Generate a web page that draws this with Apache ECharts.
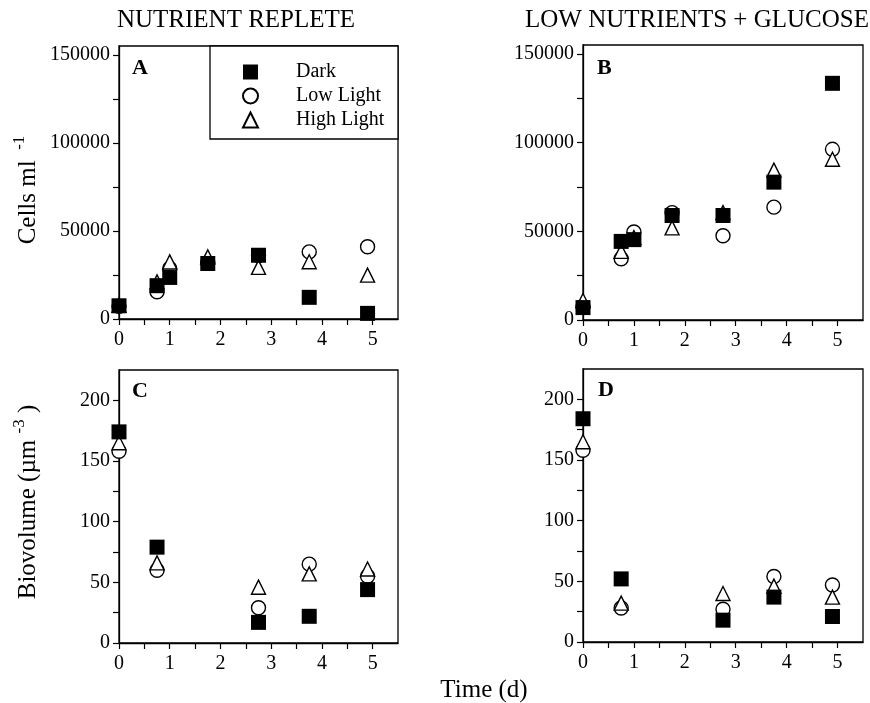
<!DOCTYPE html>
<html>
<head>
<meta charset="utf-8">
<script src="https://cdn.jsdelivr.net/npm/echarts@6/dist/echarts.min.js"></script>
<style>
html,body{margin:0;padding:0;background:#fff;}
#chart{width:870px;height:703px;}
</style>
</head>
<body>
<div id="chart"></div>
<script>
// ---- data ----
const seriesNames = ['Dark', 'Low Light', 'High Light'];
const panelTitles = ['NUTRIENT REPLETE', 'LOW NUTRIENTS + GLUCOSE'];
const panelLetters = ['A', 'B', 'C', 'D'];

const cellTimes = [0, 0.75, 1, 1.75, 2.75, 3.75, 4.9];
const bioTimes = [0, 0.75, 2.75, 3.75, 4.9];

const cellsA_dark = [7500, 18900, 23600, 31500, 36200, 12300, 3200];
const cellsA_low  = [7200, 15500, 28700, 32000, 36000, 38100, 41000];
const cellsA_high = [7800, 21100, 32400, 35300, 29300, 32500, 24900];

const cellsB_dark = [7000, 44300, 45300, 58900, 58900, 77700, 133400];
const cellsB_low  = [7500, 34500, 49600, 60500, 47500, 63600, 96200];
const cellsB_high = [11000, 38700, 46500, 51900, 60500, 84500, 90600];

const bioC_dark = [174, 79, 17, 22, 44];
const bioC_low  = [158, 60, 29, 65, 55];
const bioC_high = [165, 66, 46, 57, 61];

const bioD_dark = [184, 52, 18, 37, 21];
const bioD_low  = [158, 28, 27, 54, 47];
const bioD_high = [165, 32, 40, 46, 37];

const xTickValues = [0, 0.5, 1, 1.5, 2, 2.5, 3, 3.5, 4, 4.5, 5];
const xLabelValues = [0, 1, 2, 3, 4, 5];
const cellTickValues = [0, 25000, 50000, 75000, 100000, 125000, 150000];
const cellLabelValues = [0, 50000, 100000, 150000];
const bioTickValues = [0, 25, 50, 75, 100, 125, 150, 175, 200];
const bioLabelValues = [0, 50, 100, 150, 200];

// ---- styling ----
const FONT = "'Liberation Serif', 'Times New Roman', serif";
const grids = [
  {left: 119, top: 46, width: 279, height: 273},
  {left: 583, top: 45, width: 280, height: 275},
  {left: 119, top: 370, width: 279, height: 273},
  {left: 583, top: 369, width: 280, height: 273}
];

function zip(xs, ys) { return xs.map((x, i) => [x, ys[i]]); }

const symbolStyles = {
  'Dark': {symbol: 'rect', symbolSize: 15, itemStyle: {color: '#000', borderColor: '#000', borderWidth: 0, opacity: 1}},
  'Low Light': {symbol: 'circle', symbolSize: 14, itemStyle: {color: '#fff', borderColor: '#000', borderWidth: 1.4, opacity: 1}},
  'High Light': {symbol: 'triangle', symbolSize: 14, itemStyle: {color: '#fff', borderColor: '#000', borderWidth: 1.4, opacity: 1}}
};

const panelData = [
  {times: cellTimes, dark: cellsA_dark, low: cellsA_low, high: cellsA_high},
  {times: cellTimes, dark: cellsB_dark, low: cellsB_low, high: cellsB_high},
  {times: bioTimes, dark: bioC_dark, low: bioC_low, high: bioC_high},
  {times: bioTimes, dark: bioD_dark, low: bioD_low, high: bioD_high}
];

const xAxes = grids.map((g, i) => ({
  type: 'value', gridIndex: i, min: 0, max: 5.5,
  splitLine: {show: false},
  axisLine: {show: true, onZero: false, lineStyle: {color: '#000', width: 1.3}},
  axisTick: {show: true, inside: false, length: 6, customValues: xTickValues, lineStyle: {color: '#000', width: 1.2}},
  axisLabel: {show: true, customValues: xLabelValues, margin: 11, color: '#000', fontSize: 20, fontFamily: FONT,
              formatter: v => String(v)}
}));

const yAxes = grids.map((g, i) => {
  const cells = i < 2;
  return {
    type: 'value', gridIndex: i, min: 0, max: cells ? 155000 : 225,
    splitLine: {show: false},
    axisLine: {show: true, onZero: false, lineStyle: {color: '#000', width: 1.3}},
    axisTick: {show: true, inside: false, length: 6, customValues: cells ? cellTickValues : bioTickValues,
               lineStyle: {color: '#000', width: 1.2}},
    axisLabel: {show: true, customValues: cells ? cellLabelValues : bioLabelValues, margin: 9, color: '#000',
                fontSize: 20, fontFamily: FONT, formatter: v => String(v)}
  };
});

const series = [];
panelData.forEach((p, i) => {
  const order = [['Low Light', p.low], ['High Light', p.high], ['Dark', p.dark]];
  order.forEach(([name, vals]) => {
    const st = symbolStyles[name];
    series.push({
      type: 'scatter', name: name, xAxisIndex: i, yAxisIndex: i,
      symbol: st.symbol, symbolSize: st.symbolSize, itemStyle: st.itemStyle,
      emphasis: {disabled: true},
      data: zip(p.times, vals), z: 3
    });
  });
});

const supRich = {
  a: {font: '25px ' + FONT, fill: '#000', lineHeight: 30, verticalAlign: 'bottom'},
  s: {font: '17px ' + FONT, fill: '#000', lineHeight: 30, verticalAlign: 'top'}
};

const graphic = [
  // column titles
  {type: 'text', x: 236, y: 20, style: {text: panelTitles[0], font: '25px ' + FONT, fill: '#000', align: 'center', verticalAlign: 'middle'}},
  {type: 'text', x: 697, y: 20, style: {text: panelTitles[1], font: '25px ' + FONT, fill: '#000', align: 'center', verticalAlign: 'middle'}},
  // panel letters
  {type: 'text', x: 132, y: 68, style: {text: panelLetters[0], font: 'bold 22px ' + FONT, fill: '#000', verticalAlign: 'middle'}},
  {type: 'text', x: 597, y: 68, style: {text: panelLetters[1], font: 'bold 22px ' + FONT, fill: '#000', verticalAlign: 'middle'}},
  {type: 'text', x: 132, y: 391, style: {text: panelLetters[2], font: 'bold 22px ' + FONT, fill: '#000', verticalAlign: 'middle'}},
  {type: 'text', x: 598, y: 390, style: {text: panelLetters[3], font: 'bold 22px ' + FONT, fill: '#000', verticalAlign: 'middle'}},
  // legend box
  {type: 'rect', shape: {x: 210, y: 46, width: 188, height: 93}, style: {fill: '#fff', stroke: '#000', lineWidth: 1.3}, z: 5},
  // y axis titles
  {type: 'text', x: 26, y: 190, rotation: Math.PI / 2,
   style: {text: '{a|Cells ml }{s| -1}', align: 'center', verticalAlign: 'middle', fill: '#000', rich: supRich}},
  {type: 'text', x: 26, y: 502, rotation: Math.PI / 2,
   style: {text: '{a|Biovolume (\u00b5m }{s|-3}{a| )}', align: 'center', verticalAlign: 'middle', fill: '#000', rich: supRich}},
  // x axis title
  {type: 'text', x: 484, y: 690, style: {text: 'Time (d)', font: '25px ' + FONT, fill: '#000', align: 'center', verticalAlign: 'middle'}}
];

const chart = echarts.init(document.getElementById('chart'), null, {renderer: 'canvas'});
chart.setOption({
  backgroundColor: '#fff',
  animation: false,
  grid: grids.map(g => Object.assign({show: true, borderColor: '#000', borderWidth: 1.3, backgroundColor: 'transparent'}, g)),
  xAxis: xAxes,
  yAxis: yAxes,
  legend: {
    data: seriesNames, orient: 'vertical', left: 237, top: 57, itemWidth: 15, itemHeight: 15, itemGap: 4,
    z: 10,
    textStyle: {color: '#000', fontSize: 20, fontFamily: FONT, padding: [0, 0, 0, 33]}
  },
  series: series,
  graphic: graphic
});
</script>
</body>
</html>
